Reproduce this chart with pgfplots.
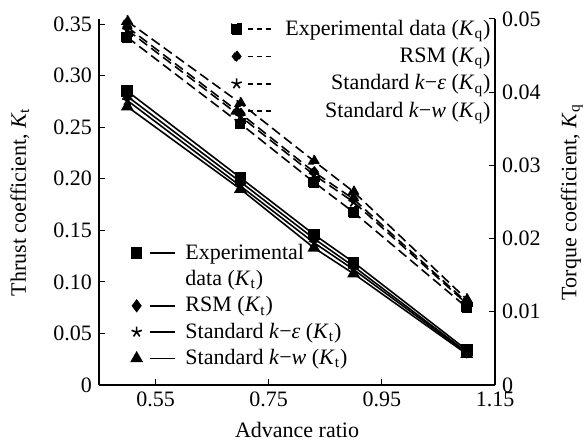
\documentclass[border=0pt]{standalone}
\usepackage{pgfplots}
\pgfplotsset{compat=1.18}
\usepackage{fontspec}
\setmainfont{Liberation Serif}
\newcommand{\Kt}{\textit{K}\textsubscript{t}}
\newcommand{\Kq}{\textit{K}\textsubscript{q}}
\pgfplotsset{
  every axis/.append style={
    font=\fontsize{11}{13}\selectfont,
    /pgf/number format/assume math mode=true,
  },
}
\begin{document}
\begin{tikzpicture}
\begin{axis}[
  name=main,
  scale only axis, width=198pt, height=183pt,
  xmin=0.45, xmax=1.15, ymin=0, ymax=0.355,
  xtick={0.55,0.75,0.95,1.15},
  xticklabels={0.55,0.75,0.95,1.15},
  ytick={0,0.05,0.10,0.15,0.20,0.25,0.30,0.35},
  yticklabels={0,0.05,0.10,0.15,0.20,0.25,0.30,0.35},
  scaled ticks=false,
  axis y line*=left, axis x line*=bottom,
  tick align=inside, major tick length=3pt,
  tick style={black, line width=0.5pt},
  axis line style={line width=0.6pt},
  xlabel={Advance ratio}, ylabel={Thrust coefficient, \Kt},
  every axis x label/.style={at={(axis description cs:0.5,-0.123)}, anchor=center},
  every axis y label/.style={at={(axis description cs:-0.2,0.5)}, rotate=90, anchor=center},
  every axis plot/.append style={black, line width=0.8pt},
  every mark/.append style={solid},
  legend style={at={(0.066,0.025)}, anchor=south west, draw=none, fill=none,
    row sep=0pt, font=\fontsize{11}{13}\selectfont},
  legend cell align=left,
  legend image code/.code={
    \draw[#1,mark=none] (6.5pt,0pt) -- (19pt,0pt);
    \draw[#1,draw=none] plot coordinates {(0pt,0pt)};
    \path (22pt,0pt);
  },
]
\addplot[mark=square*, mark size=2.5pt] coordinates {(0.5,0.285) (0.7,0.201) (0.83,0.146) (0.9,0.119) (1.1,0.034)};
\addlegendentry{Experimental}
\addlegendimage{empty legend}
\addlegendentry{data (\Kt)}
\addplot[mark=diamond*, mark size=2.7pt] coordinates {(0.5,0.280) (0.7,0.197) (0.83,0.142) (0.9,0.115) (1.1,0.032)};
\addlegendentry{RSM (\Kt)}
\addplot[mark=star, mark size=2.7pt, mark options={line width=0.8pt}] coordinates {(0.5,0.276) (0.7,0.193) (0.83,0.138) (0.9,0.112) (1.1,0.031)};
\addlegendentry{Standard \textit{k}−\textit{ε} (\Kt)}
\addplot[mark=triangle*, mark size=2.9pt] coordinates {(0.5,0.270) (0.7,0.190) (0.83,0.133) (0.9,0.108) (1.1,0.030)};
\addlegendentry{Standard \textit{k}−\textit{w} (\Kt)}
\end{axis}
\begin{axis}[
  scale only axis, width=198pt, height=183pt,
  xmin=0.45, xmax=1.15, ymin=0, ymax=0.05,
  axis y line*=right, axis x line=none,
  ytick={0,0.01,0.02,0.03,0.04,0.05},
  yticklabels={0,0.01,0.02,0.03,0.04,0.05},
  scaled ticks=false,
  tick align=inside, major tick length=3pt,
  tick style={black, line width=0.5pt},
  axis line style={line width=0.6pt},
  ylabel={Torque coefficient, \Kq},
  every axis y label/.style={at={(axis description cs:1.194,0.5)}, rotate=90, anchor=center},
  every axis plot/.append style={black, line width=0.8pt, dash pattern=on 5pt off 2.5pt},
  every mark/.append style={solid},
  legend style={at={(1.015,1.02)}, anchor=north east, draw=none, fill=none,
    row sep=0.5pt, font=\fontsize{11}{13}\selectfont},
  legend cell align=right,
  legend image code/.code={
    \draw[#1,mark=none,dash pattern=on 2.6pt off 1.9pt] (5.5pt,0pt) -- (18pt,0pt);
    \draw[#1,draw=none] plot coordinates {(0pt,0pt)};
    \path (22pt,0pt);
  },
]
\addplot[mark=square*, mark size=2.5pt] coordinates {(0.5,0.0475) (0.7,0.0357) (0.83,0.0277) (0.9,0.0236) (1.1,0.0106)};
\addlegendentry{Experimental data (\Kq)}
\addplot[mark=diamond*, mark size=2.7pt] coordinates {(0.5,0.0489) (0.7,0.0371) (0.83,0.0291) (0.9,0.0254) (1.1,0.0113)};
\addlegendentry{RSM (\Kq)}
\addplot[mark=star, mark size=2.7pt, mark options={line width=0.8pt}] coordinates {(0.5,0.0485) (0.7,0.0367) (0.83,0.0287) (0.9,0.0250) (1.1,0.0111)};
\addlegendentry{Standard \textit{k}−\textit{ε} (\Kq)}
\addplot[mark=triangle*, mark size=2.9pt] coordinates {(0.5,0.0497) (0.7,0.0385) (0.83,0.0306) (0.9,0.0264) (1.1,0.0117)};
\addlegendentry{Standard \textit{k}−\textit{w} (\Kq)}
\end{axis}
\pgfresetboundingbox
\path ([shift={(-49.5pt,-28.5pt)}]main.south west) rectangle ([shift={(45pt,9.5pt)}]main.north east);
\end{tikzpicture}
\end{document}
